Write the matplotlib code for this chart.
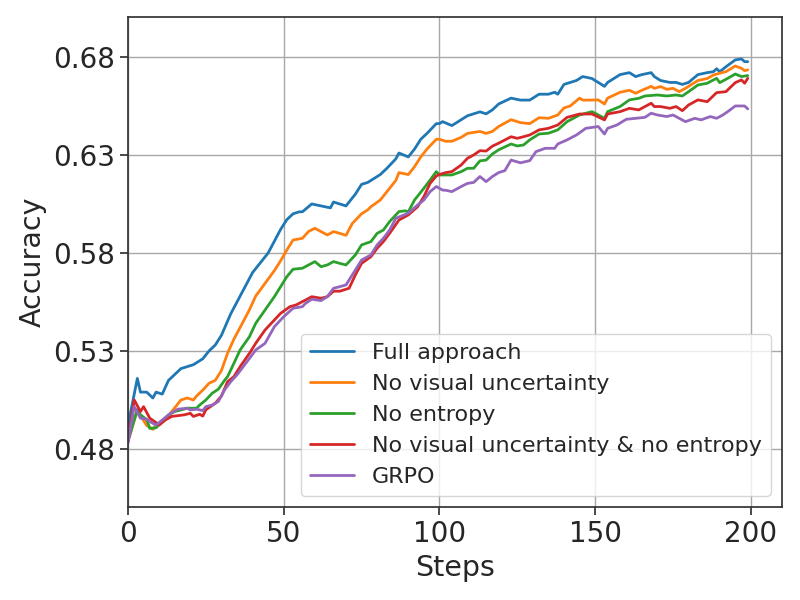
import matplotlib
matplotlib.use("Agg")
import matplotlib.pyplot as plt
import seaborn as sns

# ---- data ----
labels = ["Full approach", "No visual uncertainty", "No entropy",
          "No visual uncertainty & no entropy", "GRPO"]

steps_full = [0, 3, 4, 6, 8, 9, 11, 13, 15, 17, 19, 21, 24, 26, 28, 30, 33, 36, 40, 43, 45,
              47, 49, 51, 53, 55, 56, 59, 62, 65, 66, 68, 70, 73, 75, 77, 78, 81, 83, 86, 87,
              90, 92, 94, 96, 99, 100, 101, 104, 107, 109, 113, 115, 117, 119, 123, 126, 129,
              132, 135, 137, 138, 140, 142, 144, 146, 149, 151, 153, 154, 158, 161, 163, 165,
              168, 169, 171, 174, 176, 178, 180, 183, 186, 188, 189, 190, 192, 195, 197, 198, 199]
acc_full = [0.492, 0.516, 0.509, 0.509, 0.506, 0.509, 0.508, 0.515, 0.518, 0.521, 0.522, 0.523,
            0.526, 0.530, 0.533, 0.538, 0.549, 0.558, 0.570, 0.576, 0.580, 0.586, 0.592, 0.597,
            0.600, 0.601, 0.601, 0.605, 0.604, 0.603, 0.606, 0.605, 0.604, 0.610, 0.615, 0.616,
            0.617, 0.620, 0.623, 0.628, 0.631, 0.629, 0.633, 0.638, 0.641, 0.646, 0.646, 0.647,
            0.645, 0.648, 0.650, 0.652, 0.651, 0.653, 0.656, 0.659, 0.658, 0.658, 0.661, 0.661,
            0.662, 0.661, 0.666, 0.667, 0.668, 0.670, 0.669, 0.667, 0.665, 0.667, 0.671, 0.672,
            0.670, 0.671, 0.672, 0.670, 0.668, 0.667, 0.667, 0.666, 0.667, 0.671, 0.672, 0.6725,
            0.674, 0.6725, 0.675, 0.6785, 0.679, 0.6776, 0.6776]

steps_novis = [0, 3, 4, 6, 8, 9, 11, 13, 15, 17, 19, 21, 22, 24, 26, 28, 30, 32, 34, 36, 39,
               41, 44, 47, 49, 51, 53, 56, 58, 60, 62, 64, 66, 68, 70, 72, 75, 77, 78, 81, 83,
               86, 87, 90, 92, 94, 96, 99, 100, 102, 104, 107, 109, 113, 115, 117, 119, 123,
               126, 129, 132, 135, 138, 140, 142, 145, 146, 149, 151, 153, 154, 158, 161, 163,
               165, 168, 169, 171, 173, 175, 177, 179, 183, 186, 188, 190, 192, 195, 197, 198, 199]
acc_novis = [0.484, 0.500, 0.497, 0.492, 0.490, 0.492, 0.494, 0.497, 0.501, 0.505, 0.506, 0.505,
             0.507, 0.510, 0.5135, 0.515, 0.520, 0.529, 0.536, 0.542, 0.551, 0.558, 0.5645,
             0.571, 0.576, 0.5815, 0.5866, 0.5875, 0.591, 0.5926, 0.5909, 0.5892, 0.5909, 0.590,
             0.589, 0.595, 0.600, 0.602, 0.6036, 0.607, 0.611, 0.617, 0.621, 0.620, 0.624, 0.629,
             0.633, 0.638, 0.638, 0.637, 0.637, 0.639, 0.641, 0.642, 0.641, 0.642, 0.6445, 0.648,
             0.6465, 0.646, 0.649, 0.6487, 0.6504, 0.654, 0.655, 0.659, 0.658, 0.658, 0.6581,
             0.656, 0.659, 0.662, 0.663, 0.6615, 0.663, 0.665, 0.664, 0.6649, 0.6635, 0.664,
             0.6623, 0.664, 0.668, 0.669, 0.6708, 0.6717, 0.6725, 0.6754, 0.6742, 0.673, 0.6734]

steps_noent = [0, 3, 4, 6, 7, 9, 11, 13, 15, 17, 19, 22, 23, 25, 27, 29, 31, 32, 34, 36, 39,
               41, 44, 47, 49, 51, 53, 56, 58, 60, 62, 64, 66, 68, 70, 73, 75, 78, 80, 82, 84,
               87, 89, 90, 92, 95, 97, 99, 100, 104, 107, 109, 111, 113, 115, 117, 119, 123,
               125, 127, 129, 132, 135, 138, 141, 145, 149, 153, 154, 158, 161, 164, 166, 170,
               173, 176, 178, 180, 183, 186, 188, 189, 190, 192, 195, 197, 199]
acc_noent = [0.484, 0.500, 0.4974, 0.495, 0.4905, 0.4908, 0.494, 0.4974, 0.4991, 0.4999, 0.5008,
             0.5008, 0.5024, 0.505, 0.5084, 0.5105, 0.515, 0.517, 0.5237, 0.5305, 0.5373,
             0.5441, 0.5509, 0.5577, 0.5628, 0.5679, 0.5717, 0.5722, 0.5739, 0.5756, 0.5730,
             0.5739, 0.5756, 0.5747, 0.5739, 0.579, 0.5841, 0.5858, 0.590, 0.5917, 0.596, 0.6011,
             0.6015, 0.601, 0.607, 0.613, 0.6172, 0.6215, 0.6198, 0.6198, 0.6215, 0.6232,
             0.6232, 0.627, 0.6274, 0.6305, 0.6326, 0.6356, 0.6346, 0.6351, 0.6377, 0.6407,
             0.6411, 0.6428, 0.647, 0.6504, 0.6521, 0.6487, 0.6521, 0.6547, 0.6581, 0.6589,
             0.6601, 0.6606, 0.6601, 0.6606, 0.6601, 0.6623, 0.6657, 0.6666, 0.6683, 0.6691,
             0.6669, 0.6686, 0.6713, 0.670, 0.6705]

steps_both = [0, 2, 4, 5, 7, 9, 10, 12, 14, 18, 20, 21, 23, 24, 25, 28, 30, 32, 34, 36, 39,
              41, 44, 47, 49, 52, 54, 57, 59, 62, 64, 66, 68, 70, 71, 73, 75, 78, 80, 82, 84,
              87, 90, 93, 95, 97, 99, 100, 102, 104, 107, 109, 111, 113, 115, 117, 119, 123,
              125, 127, 129, 132, 135, 138, 141, 145, 149, 153, 154, 158, 161, 164, 168, 169,
              171, 174, 176, 178, 180, 183, 186, 189, 192, 195, 197, 198, 199]
acc_both = [0.4837, 0.505, 0.4991, 0.5016, 0.4957, 0.4935, 0.4922, 0.4948, 0.4966, 0.4974,
            0.4982, 0.4966, 0.4977, 0.4968, 0.500, 0.5033, 0.507, 0.5144, 0.5169, 0.522, 0.5288,
            0.5339, 0.5407, 0.5458, 0.5492, 0.5526, 0.5535, 0.556, 0.5577, 0.5569, 0.5577,
            0.5605, 0.5605, 0.5615, 0.562, 0.5688, 0.5747, 0.5781, 0.5824, 0.5858, 0.590,
            0.5968, 0.5994, 0.6036, 0.6087, 0.6155, 0.6193, 0.620, 0.621, 0.6215, 0.6249,
            0.6283, 0.630, 0.6322, 0.632, 0.6345, 0.636, 0.6393, 0.6385, 0.6393, 0.6402, 0.6428,
            0.6436, 0.6453, 0.6492, 0.6509, 0.6509, 0.6479, 0.6509, 0.6521, 0.6538, 0.653,
            0.6564, 0.6547, 0.6547, 0.6538, 0.6547, 0.6526, 0.6555, 0.6581, 0.6572, 0.6618,
            0.6623, 0.6669, 0.6683, 0.6666, 0.6691]

steps_grpo = [0, 2, 4, 6, 7, 9, 11, 13, 16, 19, 20, 22, 24, 25, 27, 29, 31, 33, 35, 37, 39,
              41, 44, 47, 50, 53, 56, 57, 59, 62, 64, 66, 68, 70, 73, 75, 78, 80, 82, 84, 86,
              90, 93, 95, 97, 99, 101, 102, 104, 107, 109, 111, 113, 115, 117, 119, 121, 123,
              126, 129, 131, 134, 137, 138, 141, 144, 147, 151, 153, 154, 157, 160, 163, 166,
              168, 170, 173, 175, 177, 179, 182, 184, 187, 189, 191, 193, 195, 198, 199]
acc_grpo = [0.4831, 0.5016, 0.4957, 0.4952, 0.494, 0.4922, 0.4948, 0.4974, 0.5003, 0.5008,
            0.4999, 0.5003, 0.4996, 0.5016, 0.5024, 0.5042, 0.5101, 0.5144, 0.5178, 0.522,
            0.5262, 0.5305, 0.5339, 0.5424, 0.5475, 0.5518, 0.5526, 0.5543, 0.5564, 0.5557,
            0.5577, 0.562, 0.5628, 0.5637, 0.5713, 0.5764, 0.579, 0.5841, 0.5875, 0.5917,
            0.5977, 0.6003, 0.6045, 0.607, 0.6113, 0.6139, 0.6121, 0.612, 0.6113, 0.6139,
            0.6155, 0.616, 0.619, 0.6164, 0.619, 0.621, 0.622, 0.6274, 0.626, 0.6271, 0.6317,
            0.6334, 0.6334, 0.6356, 0.6377, 0.6402, 0.6436, 0.6445, 0.6407, 0.6436, 0.6453,
            0.6482, 0.6487, 0.6492, 0.6513, 0.6504, 0.6496, 0.6504, 0.6487, 0.647, 0.6487,
            0.6479, 0.6496, 0.6487, 0.6504, 0.6526, 0.655, 0.655, 0.6535]

xticks = [0, 50, 100, 150, 200]
yticks = [0.48, 0.53, 0.58, 0.63, 0.68]
colors = ["#1f77b4", "#ff7f0e", "#2ca02c", "#d62728", "#9467bd"]

# ---- style ----
sns.set_style("ticks")
plt.rcParams['font.family'] = ['DejaVu Sans']
text_color = "#262626"

fig = plt.figure(figsize=(8, 6), dpi=100)
ax = fig.add_axes([0.16, 0.155, 0.8175, 0.8167])

series = [(steps_full, acc_full), (steps_novis, acc_novis), (steps_noent, acc_noent),
          (steps_both, acc_both), (steps_grpo, acc_grpo)]
for (xs, ys), lab, c in zip(series, labels, colors):
    ax.plot(xs, ys, color=c, lw=2, label=lab)

ax.set_xlim(0, 210)
ax.set_ylim(0.4504, 0.7004)
ax.set_xticks(xticks)
ax.set_yticks(yticks)
ax.set_yticklabels([f"{v:.2f}" for v in yticks])
ax.grid(True, color="#a8a8a8", lw=1)
ax.set_axisbelow(True)
for s in ax.spines.values():
    s.set_color("#333333")
    s.set_linewidth(1.25)
ax.tick_params(labelsize=20, colors="#333333", labelcolor=text_color, length=6, width=1.25)
ax.set_xlabel("Steps", fontsize=20.5, color=text_color)
ax.set_ylabel("Accuracy", fontsize=20.5, color=text_color)

leg = ax.legend(loc="lower right", fontsize=16, frameon=True)
for t in leg.get_texts():
    t.set_color(text_color)

fig.savefig("out.png", dpi=100)
